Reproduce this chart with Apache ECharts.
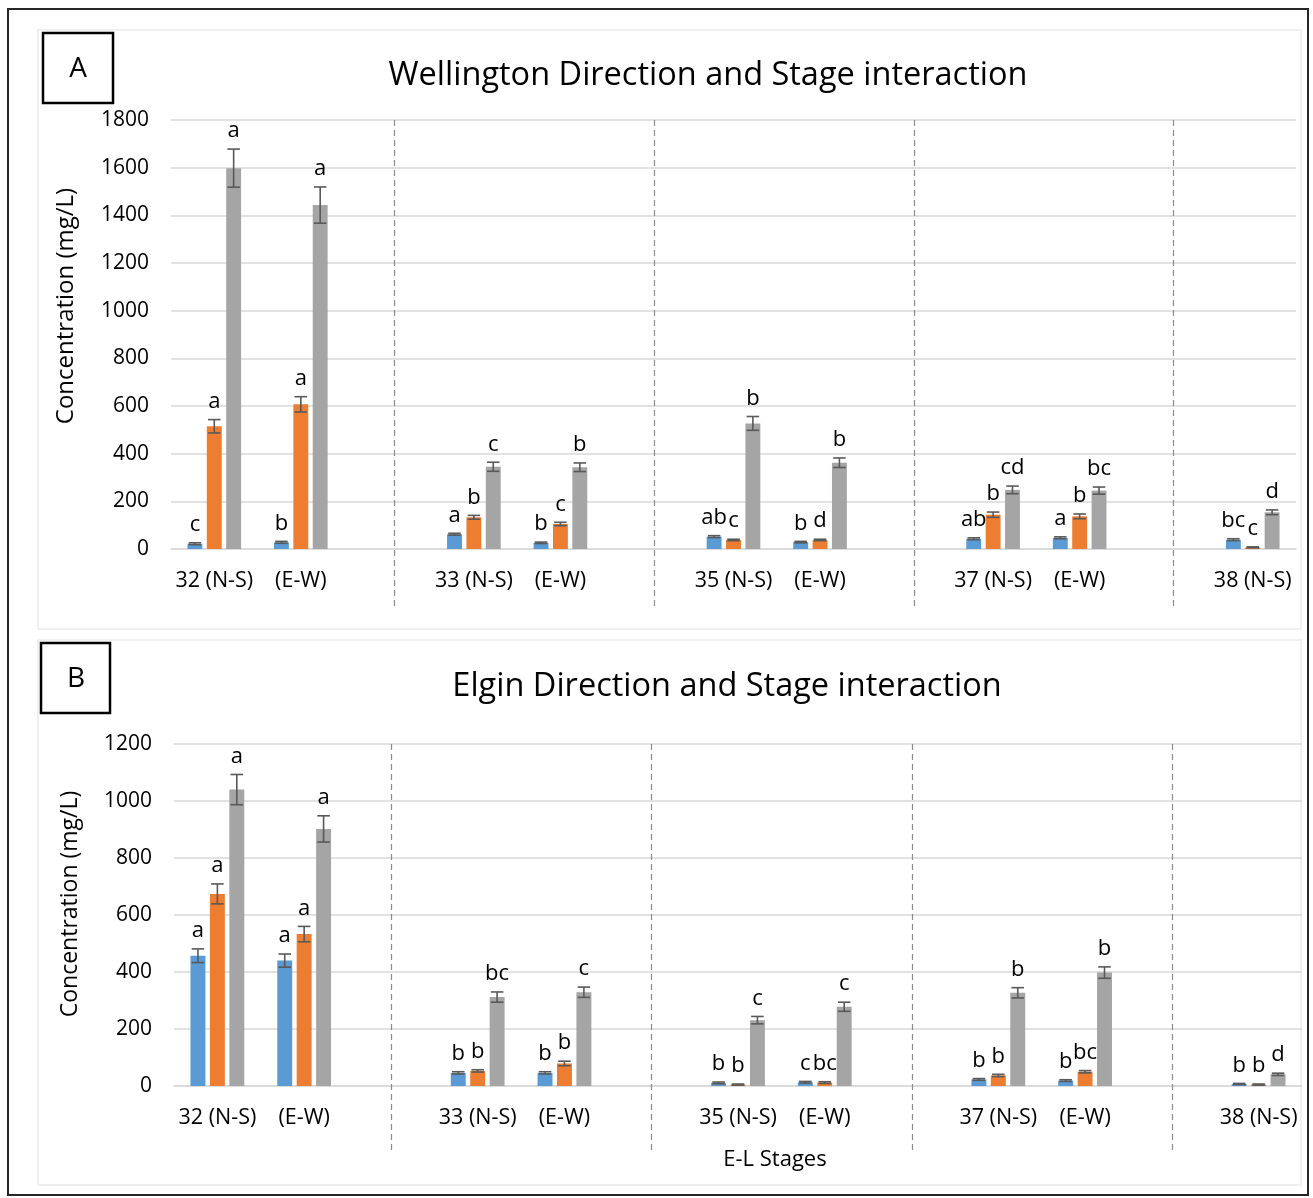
<!DOCTYPE html>
<html>
<head>
<meta charset="utf-8">
<script src="https://cdn.jsdelivr.net/npm/echarts@6/dist/echarts.min.js"></script>
<style>
html,body{margin:0;padding:0;background:#fff;}
#chart{width:1313px;height:1198px;}
</style>
</head>
<body>
<div id="chart"></div>
<script>
// ---------- DATA ----------
const categories = ['32 (N-S)','(E-W)','','33 (N-S)','(E-W)','','35 (N-S)','(E-W)','','37 (N-S)','(E-W)','','38 (N-S)'];
const blankIdx = [2, 5, 8, 11];

// Panel A: Wellington
const titleA = 'Wellington Direction and Stage interaction';
const yTicksA = {min: 0, max: 1800, interval: 200};
const blueA   = [22, 28, null, 62, 26, null, 52, 29, null, 43, 47, null, 39];
const orangeA = [515, 607, null, 133, 105, null, 38, 38, null, 144, 137, null, 7];
const grayA   = [1598, 1443, null, 345, 343, null, 527, 362, null, 248, 245, null, 154];
const blueErrA   = [4, 4, null, 4, 3, null, 4, 3, null, 4, 4, null, 4];
const orangeErrA = [28, 32, null, 8, 7, null, 3, 3, null, 11, 10, null, 2];
const grayErrA   = [80, 76, null, 19, 18, null, 29, 20, null, 16, 15, null, 10];
const blueLetA   = ['c','b','','a','b','','ab','b','','ab','a','','bc'];
const orangeLetA = ['a','a','','b','c','','c','d','','b','b','','c'];
const grayLetA   = ['a','a','','c','b','','b','b','','cd','bc','','d'];

// Panel B: Elgin
const titleB = 'Elgin Direction and Stage interaction';
const yTicksB = {min: 0, max: 1200, interval: 200};
const blueB   = [457, 440, null, 46, 46, null, 11, 13, null, 23, 19, null, 7];
const orangeB = [674, 533, null, 53, 79, null, 5, 12, null, 37, 50, null, 5];
const grayB   = [1040, 902, null, 312, 329, null, 231, 278, null, 327, 398, null, 41];
const blueErrB   = [24, 23, null, 4, 4, null, 3, 3, null, 3, 3, null, 2];
const orangeErrB = [35, 27, null, 4, 8, null, 2, 3, null, 4, 4, null, 2];
const grayErrB   = [53, 46, null, 18, 18, null, 13, 16, null, 18, 20, null, 4];
const blueLetB   = ['a','a','','b','b','','b','c','','b','b','','b'];
const orangeLetB = ['a','a','','b','b','','b','bc','','b','bc','','b'];
const grayLetB   = ['a','a','','bc','c','','c','c','','b','b','','d'];

const yName = 'Concentration (mg/L)';
const xName = 'E-L Stages';

// ---------- STYLE ----------
const FONT = 'Open Sans';
const COLORS = ['#5B9BD5', '#ED7D31', '#A5A5A5'];
const CAT_GAP = 0.38, BAR_GAP = 0.30;

const chart = echarts.init(document.getElementById('chart'), null, {renderer: 'canvas'});

function barSeries(g, idx, vals) {
  return {
    type: 'bar', xAxisIndex: g, yAxisIndex: g,
    data: vals.map(v => v == null ? '-' : v),
    itemStyle: {color: COLORS[idx]},
    barGap: (BAR_GAP * 100) + '%', barCategoryGap: (CAT_GAP * 100) + '%',
    silent: true, z: 2
  };
}

function errSeries(g, idx, vals, errs, lets) {
  const data = [];
  vals.forEach((v, i) => { if (v != null) data.push([i, v, errs[i], lets[i]]); });
  return {
    type: 'custom', xAxisIndex: g, yAxisIndex: g, z: 5, silent: true, clip: false,
    data: data,
    renderItem: function (params, api) {
      const d = data[params.dataIndex];
      const i = d[0], v = d[1], e = d[2], t = d[3];
      const band = api.size([1, 0])[0];
      const total = band * (1 - CAT_GAP);
      const w = total / (3 + 2 * BAR_GAP);
      const c = api.coord([i, v]);
      const cx = c[0] - total / 2 + w / 2 + idx * w * (1 + BAR_GAP);
      const top = api.coord([i, v + e])[1];
      const bot = api.coord([i, Math.max(0, v - e)])[1];
      const hw = w * 0.42;
      const st = {stroke: '#595959', lineWidth: 1.6};
      return {
        type: 'group',
        children: [
          {type: 'line', shape: {x1: cx, y1: top, x2: cx, y2: bot}, style: st},
          {type: 'line', shape: {x1: cx - hw, y1: top, x2: cx + hw, y2: top}, style: st},
          {type: 'line', shape: {x1: cx - hw, y1: bot, x2: cx + hw, y2: bot}, style: st},
          {type: 'text', style: {text: t, x: cx, y: top - 7, textAlign: 'center', textVerticalAlign: 'bottom',
            font: '22px "' + FONT + '"', fill: '#000'}}
        ]
      };
    }
  };
}

function xAxis(g) {
  return {
    type: 'category', gridIndex: g, data: categories,
    axisTick: {show: false},
    axisLine: {lineStyle: {color: '#d9d9d9', width: 1.5}},
    axisLabel: {interval: 0, fontSize: 21.5, fontFamily: FONT, color: '#000', margin: 21}
  };
}
function yAxis(g, t) {
  return {
    type: 'value', gridIndex: g, min: t.min, max: t.max, interval: t.interval,
    axisLine: {show: false}, axisTick: {show: false},
    splitLine: {lineStyle: {color: '#d9d9d9', width: 1.5}},
    axisLabel: {fontSize: 21, fontFamily: FONT, color: '#000', margin: 22, formatter: v => String(v)}
  };
}

const baseGraphics = [
  {type: 'rect', shape: {x: 8, y: 9, width: 1300, height: 1186}, style: {fill: 'none', stroke: '#262626', lineWidth: 2}, z: 0},
  {type: 'rect', shape: {x: 38, y: 30, width: 1263, height: 599}, style: {fill: 'none', stroke: '#ececec', lineWidth: 1.5}, z: 0},
  {type: 'rect', shape: {x: 38, y: 640, width: 1263, height: 545}, style: {fill: 'none', stroke: '#ececec', lineWidth: 1.5}, z: 0},
  {type: 'rect', shape: {x: 43, y: 33, width: 70, height: 70}, style: {fill: '#fff', stroke: '#000', lineWidth: 2.5}, z: 10},
  {type: 'text', style: {text: 'A', x: 78, y: 69, textAlign: 'center', textVerticalAlign: 'middle', font: '28px "' + FONT + '"', fill: '#000'}, z: 11},
  {type: 'rect', shape: {x: 41, y: 643, width: 69, height: 70}, style: {fill: '#fff', stroke: '#000', lineWidth: 2.5}, z: 10},
  {type: 'text', style: {text: 'B', x: 76, y: 679, textAlign: 'center', textVerticalAlign: 'middle', font: '28px "' + FONT + '"', fill: '#000'}, z: 11},
  {type: 'text', style: {text: titleA, x: 708, y: 76, textAlign: 'center', textVerticalAlign: 'middle', font: '32.5px "' + FONT + '"', fill: '#000'}, z: 10},
  {type: 'text', style: {text: titleB, x: 727, y: 687, textAlign: 'center', textVerticalAlign: 'middle', font: '32.5px "' + FONT + '"', fill: '#000'}, z: 10},
  {type: 'text', rotation: Math.PI / 2, x: 66, y: 306, style: {text: yName, x: 0, y: 0, textAlign: 'center', textVerticalAlign: 'middle', font: '24px "' + FONT + '"', fill: '#000'}, z: 10},
  {type: 'text', rotation: Math.PI / 2, x: 70, y: 904, style: {text: yName, x: 0, y: 0, textAlign: 'center', textVerticalAlign: 'middle', font: '23px "' + FONT + '"', fill: '#000'}, z: 10},
  {type: 'text', style: {text: xName, x: 775, y: 1160, textAlign: 'center', textVerticalAlign: 'middle', font: '22px "' + FONT + '"', fill: '#000'}, z: 10}
];

const option = {
  animation: false,
  backgroundColor: '#fff',
  grid: [
    {left: 171, right: 17, top: 120, bottom: 1198 - 549, containLabel: false},
    {left: 174, right: 11, top: 744, bottom: 1198 - 1086, containLabel: false}
  ],
  xAxis: [xAxis(0), xAxis(1)],
  yAxis: [yAxis(0, yTicksA), yAxis(1, yTicksB)],
  series: [
    barSeries(0, 0, blueA), barSeries(0, 1, orangeA), barSeries(0, 2, grayA),
    errSeries(0, 0, blueA, blueErrA, blueLetA), errSeries(0, 1, orangeA, orangeErrA, orangeLetA), errSeries(0, 2, grayA, grayErrA, grayLetA),
    barSeries(1, 0, blueB), barSeries(1, 1, orangeB), barSeries(1, 2, grayB),
    errSeries(1, 0, blueB, blueErrB, blueLetB), errSeries(1, 1, orangeB, orangeErrB, orangeLetB), errSeries(1, 2, grayB, grayErrB, grayLetB)
  ],
  graphic: baseGraphics
};
chart.setOption(option);

// dashed separators at the blank categories, positioned through the axes
const seps = [];
const sepSpec = [
  {g: 0, y1: 120, y2: 610, shift: 0.08},
  {g: 1, y1: 744, y2: 1150, shift: 0.0}
];
sepSpec.forEach(s => {
  const p0 = chart.convertToPixel({xAxisIndex: s.g}, 0);
  const p1 = chart.convertToPixel({xAxisIndex: s.g}, 1);
  const band = p1 - p0;
  blankIdx.forEach(b => {
    const x = Math.round(chart.convertToPixel({xAxisIndex: s.g}, b) + s.shift * band) + 0.5;
    seps.push({type: 'line', shape: {x1: x, y1: s.y1, x2: x, y2: s.y2},
      style: {stroke: '#8c8c8c', lineWidth: 1.2, lineDash: [6, 4]}, z: 3});
  });
});
chart.setOption({graphic: baseGraphics.concat(seps)});
</script>
</body>
</html>
